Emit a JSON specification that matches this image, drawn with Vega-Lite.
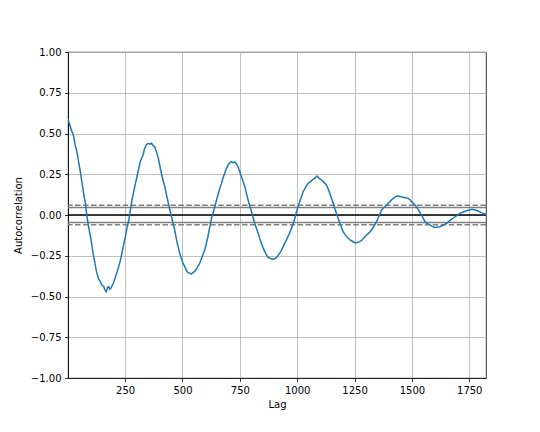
{
  "$schema": "https://vega.github.io/schema/vega-lite/v6.json",
  "autosize": {"type": "none"},
  "padding": {"left": 68, "top": 52, "right": 54, "bottom": 54},
  "width": 418,
  "height": 326,
  "background": "white",
  "config": {
    "font": "DejaVu Sans",
    "view": {"stroke": "black", "strokeWidth": 0.8},
    "axis": {
      "domainColor": "black", "domainWidth": 0.8,
      "tickColor": "black", "tickWidth": 0.8, "tickSize": 3.5,
      "labelFont": "DejaVu Sans", "labelFontSize": 10, "labelColor": "black", "labelPadding": 3.5,
      "titleFont": "DejaVu Sans", "titleFontSize": 10, "titleColor": "black", "titleFontWeight": "normal",
      "gridColor": "#b0b0b0", "gridWidth": 0.8
    }
  },
  "datasets": {
    "acf": [
      {"lag": 1, "ac": 0.59}, {"lag": 9, "ac": 0.55}, {"lag": 18, "ac": 0.511}, {"lag": 22, "ac": 0.5},
      {"lag": 26, "ac": 0.48}, {"lag": 32, "ac": 0.43}, {"lag": 38, "ac": 0.4}, {"lag": 43, "ac": 0.365},
      {"lag": 48, "ac": 0.317}, {"lag": 53, "ac": 0.28}, {"lag": 58, "ac": 0.235}, {"lag": 63, "ac": 0.19},
      {"lag": 69, "ac": 0.133}, {"lag": 73, "ac": 0.1}, {"lag": 77, "ac": 0.072}, {"lag": 80, "ac": 0.03},
      {"lag": 84, "ac": -0.01}, {"lag": 90, "ac": -0.065}, {"lag": 96, "ac": -0.112}, {"lag": 101, "ac": -0.148},
      {"lag": 106, "ac": -0.194}, {"lag": 111, "ac": -0.24}, {"lag": 116, "ac": -0.276}, {"lag": 122, "ac": -0.325},
      {"lag": 127, "ac": -0.358}, {"lag": 134, "ac": -0.39}, {"lag": 142, "ac": -0.409}, {"lag": 149, "ac": -0.43},
      {"lag": 157, "ac": -0.44}, {"lag": 162, "ac": -0.46}, {"lag": 168, "ac": -0.47}, {"lag": 173, "ac": -0.445},
      {"lag": 178, "ac": -0.44}, {"lag": 183, "ac": -0.455}, {"lag": 188, "ac": -0.45}, {"lag": 198, "ac": -0.42},
      {"lag": 208, "ac": -0.378}, {"lag": 215, "ac": -0.35}, {"lag": 222, "ac": -0.317}, {"lag": 229, "ac": -0.28},
      {"lag": 236, "ac": -0.235}, {"lag": 243, "ac": -0.185}, {"lag": 251, "ac": -0.133}, {"lag": 258, "ac": -0.08},
      {"lag": 266, "ac": -0.031}, {"lag": 273, "ac": 0.03}, {"lag": 280, "ac": 0.092}, {"lag": 287, "ac": 0.14},
      {"lag": 295, "ac": 0.194}, {"lag": 304, "ac": 0.25}, {"lag": 314, "ac": 0.317}, {"lag": 321, "ac": 0.345},
      {"lag": 328, "ac": 0.368}, {"lag": 335, "ac": 0.409}, {"lag": 342, "ac": 0.43}, {"lag": 350, "ac": 0.44},
      {"lag": 357, "ac": 0.435}, {"lag": 365, "ac": 0.44}, {"lag": 372, "ac": 0.425}, {"lag": 379, "ac": 0.419},
      {"lag": 386, "ac": 0.39}, {"lag": 393, "ac": 0.358}, {"lag": 400, "ac": 0.31}, {"lag": 408, "ac": 0.256},
      {"lag": 415, "ac": 0.215}, {"lag": 423, "ac": 0.174}, {"lag": 430, "ac": 0.125}, {"lag": 437, "ac": 0.082},
      {"lag": 444, "ac": 0.035}, {"lag": 452, "ac": -0.01}, {"lag": 459, "ac": -0.05}, {"lag": 466, "ac": -0.092},
      {"lag": 473, "ac": -0.145}, {"lag": 481, "ac": -0.194}, {"lag": 488, "ac": -0.235}, {"lag": 495, "ac": -0.266},
      {"lag": 502, "ac": -0.295}, {"lag": 510, "ac": -0.317}, {"lag": 517, "ac": -0.34}, {"lag": 524, "ac": -0.354},
      {"lag": 531, "ac": -0.355}, {"lag": 539, "ac": -0.362}, {"lag": 546, "ac": -0.352}, {"lag": 553, "ac": -0.348},
      {"lag": 564, "ac": -0.325}, {"lag": 575, "ac": -0.296}, {"lag": 586, "ac": -0.255}, {"lag": 597, "ac": -0.215},
      {"lag": 604, "ac": -0.175}, {"lag": 611, "ac": -0.133}, {"lag": 618, "ac": -0.08}, {"lag": 626, "ac": -0.025},
      {"lag": 633, "ac": 0.01}, {"lag": 641, "ac": 0.05}, {"lag": 649, "ac": 0.095}, {"lag": 657, "ac": 0.135},
      {"lag": 663, "ac": 0.165}, {"lag": 670, "ac": 0.194}, {"lag": 677, "ac": 0.228}, {"lag": 684, "ac": 0.256},
      {"lag": 691, "ac": 0.285}, {"lag": 699, "ac": 0.307}, {"lag": 706, "ac": 0.32}, {"lag": 714, "ac": 0.327},
      {"lag": 721, "ac": 0.32}, {"lag": 728, "ac": 0.327}, {"lag": 735, "ac": 0.315}, {"lag": 742, "ac": 0.296},
      {"lag": 749, "ac": 0.268}, {"lag": 757, "ac": 0.235}, {"lag": 764, "ac": 0.205}, {"lag": 772, "ac": 0.174},
      {"lag": 779, "ac": 0.13}, {"lag": 786, "ac": 0.092}, {"lag": 793, "ac": 0.055}, {"lag": 801, "ac": 0.02},
      {"lag": 808, "ac": -0.018}, {"lag": 815, "ac": -0.051}, {"lag": 822, "ac": -0.08}, {"lag": 830, "ac": -0.112},
      {"lag": 837, "ac": -0.145}, {"lag": 844, "ac": -0.174}, {"lag": 851, "ac": -0.2}, {"lag": 859, "ac": -0.225},
      {"lag": 866, "ac": -0.245}, {"lag": 873, "ac": -0.26}, {"lag": 882, "ac": -0.265}, {"lag": 891, "ac": -0.272},
      {"lag": 900, "ac": -0.27}, {"lag": 910, "ac": -0.26}, {"lag": 921, "ac": -0.24}, {"lag": 932, "ac": -0.215},
      {"lag": 942, "ac": -0.185}, {"lag": 953, "ac": -0.153}, {"lag": 964, "ac": -0.12}, {"lag": 975, "ac": -0.082},
      {"lag": 983, "ac": -0.05}, {"lag": 990, "ac": -0.02}, {"lag": 997, "ac": 0.02}, {"lag": 1004, "ac": 0.05},
      {"lag": 1011, "ac": 0.082}, {"lag": 1018, "ac": 0.11}, {"lag": 1026, "ac": 0.143}, {"lag": 1037, "ac": 0.17},
      {"lag": 1048, "ac": 0.194}, {"lag": 1058, "ac": 0.205}, {"lag": 1069, "ac": 0.219}, {"lag": 1078, "ac": 0.228},
      {"lag": 1087, "ac": 0.239}, {"lag": 1096, "ac": 0.225}, {"lag": 1106, "ac": 0.215}, {"lag": 1117, "ac": 0.2},
      {"lag": 1128, "ac": 0.184}, {"lag": 1135, "ac": 0.16}, {"lag": 1142, "ac": 0.133}, {"lag": 1150, "ac": 0.1},
      {"lag": 1157, "ac": 0.072}, {"lag": 1164, "ac": 0.04}, {"lag": 1171, "ac": 0.01}, {"lag": 1179, "ac": -0.022},
      {"lag": 1186, "ac": -0.051}, {"lag": 1193, "ac": -0.077}, {"lag": 1200, "ac": -0.102}, {"lag": 1211, "ac": -0.125},
      {"lag": 1222, "ac": -0.143}, {"lag": 1233, "ac": -0.155}, {"lag": 1244, "ac": -0.164}, {"lag": 1251, "ac": -0.17},
      {"lag": 1259, "ac": -0.17}, {"lag": 1270, "ac": -0.165}, {"lag": 1280, "ac": -0.158}, {"lag": 1291, "ac": -0.14},
      {"lag": 1302, "ac": -0.123}, {"lag": 1313, "ac": -0.11}, {"lag": 1324, "ac": -0.092}, {"lag": 1335, "ac": -0.068},
      {"lag": 1346, "ac": -0.041}, {"lag": 1357, "ac": -0.005}, {"lag": 1368, "ac": 0.031}, {"lag": 1375, "ac": 0.042},
      {"lag": 1382, "ac": 0.051}, {"lag": 1393, "ac": 0.068}, {"lag": 1404, "ac": 0.082}, {"lag": 1415, "ac": 0.098},
      {"lag": 1426, "ac": 0.109}, {"lag": 1433, "ac": 0.115}, {"lag": 1440, "ac": 0.117}, {"lag": 1451, "ac": 0.112},
      {"lag": 1462, "ac": 0.109}, {"lag": 1473, "ac": 0.106}, {"lag": 1484, "ac": 0.102}, {"lag": 1491, "ac": 0.095},
      {"lag": 1499, "ac": 0.082}, {"lag": 1510, "ac": 0.066}, {"lag": 1520, "ac": 0.051}, {"lag": 1531, "ac": 0.025},
      {"lag": 1542, "ac": 0.0}, {"lag": 1550, "ac": -0.022}, {"lag": 1557, "ac": -0.041}, {"lag": 1568, "ac": -0.053},
      {"lag": 1578, "ac": -0.061}, {"lag": 1589, "ac": -0.07}, {"lag": 1600, "ac": -0.076}, {"lag": 1611, "ac": -0.074},
      {"lag": 1622, "ac": -0.072}, {"lag": 1636, "ac": -0.063}, {"lag": 1651, "ac": -0.051}, {"lag": 1665, "ac": -0.035},
      {"lag": 1680, "ac": -0.02}, {"lag": 1695, "ac": -0.004}, {"lag": 1709, "ac": 0.01}, {"lag": 1724, "ac": 0.018},
      {"lag": 1738, "ac": 0.026}, {"lag": 1750, "ac": 0.031}, {"lag": 1763, "ac": 0.035}, {"lag": 1776, "ac": 0.031},
      {"lag": 1789, "ac": 0.025}, {"lag": 1800, "ac": 0.016}, {"lag": 1811, "ac": 0.01}, {"lag": 1823, "ac": 0.004}
    ],
    "bands": [
      {"y": 0.0603, "kind": "z99"}, {"y": 0.0459, "kind": "z95"}, {"y": -0.0459, "kind": "z95"}, {"y": -0.0603, "kind": "z99"}
    ],
    "zero": [{"y": 0}]
  },
  "layer": [
    {
      "data": {"name": "bands"},
      "transform": [{"filter": "datum.kind === 'z99'"}],
      "mark": {"type": "rule", "color": "grey", "strokeWidth": 1.5, "strokeDash": [5.55, 2.4]},
      "encoding": {
        "y": {"field": "y", "type": "quantitative", "scale": {"domain": [-1, 1], "nice": false},
          "axis": {"title": "Autocorrelation", "values": [-1, -0.75, -0.5, -0.25, 0, 0.25, 0.5, 0.75, 1], "format": ".2f", "grid": true, "titlePadding": 7}}
      }
    },
    {
      "data": {"name": "bands"},
      "transform": [{"filter": "datum.kind === 'z95'"}],
      "mark": {"type": "rule", "color": "grey", "strokeWidth": 1.5},
      "encoding": {"y": {"field": "y", "type": "quantitative"}}
    },
    {
      "data": {"name": "zero"},
      "mark": {"type": "rule", "color": "black", "strokeWidth": 1.5},
      "encoding": {"y": {"field": "y", "type": "quantitative"}}
    },
    {
      "data": {"name": "acf"},
      "mark": {"type": "line", "color": "#1f77b4", "strokeWidth": 1.5, "clip": true},
      "encoding": {
        "x": {"field": "lag", "type": "quantitative", "scale": {"domain": [1, 1823], "nice": false, "zero": false},
          "axis": {"title": "Lag", "values": [250, 500, 750, 1000, 1250, 1500, 1750], "format": "d", "grid": true, "titlePadding": 4}},
        "y": {"field": "ac", "type": "quantitative"}
      }
    }
  ]
}
